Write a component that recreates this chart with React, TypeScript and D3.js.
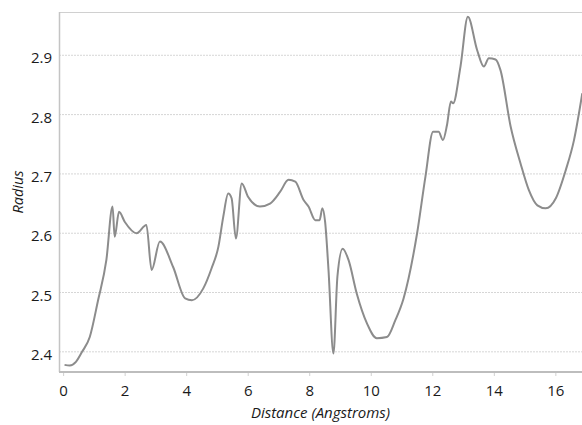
import React, { useEffect, useRef } from 'react';
import * as d3 from 'd3';

// distance (Angstroms) and radius
const distance = [
  0.03, 0.2, 0.4, 0.6, 0.85, 1.12, 1.39, 1.59, 1.66, 1.8, 1.99, 2.37, 2.69, 2.86, 3.13, 3.56,
  3.95, 4.17, 4.54, 4.81, 5.03, 5.19, 5.35, 5.46, 5.6, 5.79, 6.0, 6.38, 6.71, 7.04, 7.31,
  7.53, 7.8, 7.96, 8.18, 8.32, 8.41, 8.5, 8.61, 8.77, 8.9, 9.07, 9.26, 9.53, 9.86, 10.18,
  10.51, 10.78, 11.05, 11.49, 11.76, 12.01, 12.19, 12.33, 12.46, 12.59, 12.66, 12.9, 13.14,
  13.44, 13.66, 13.82, 14.04, 14.2, 14.53, 14.85, 15.12, 15.4, 15.67, 16.0, 16.32, 16.59, 16.86
];
const radius = [
  2.378, 2.377, 2.383, 2.4, 2.425, 2.487, 2.555, 2.645, 2.594, 2.636, 2.619, 2.6, 2.614, 2.538, 2.586, 2.543,
  2.49, 2.487, 2.507, 2.541, 2.577, 2.628, 2.667, 2.659, 2.591, 2.684, 2.661, 2.645, 2.65, 2.67, 2.69,
  2.687, 2.656, 2.645, 2.622, 2.622, 2.642, 2.619, 2.538, 2.397, 2.527, 2.574, 2.555, 2.498, 2.448, 2.423,
  2.425, 2.453, 2.49, 2.6, 2.695, 2.771, 2.771, 2.757, 2.782, 2.822, 2.819, 2.881, 2.965,
  2.909, 2.881, 2.895, 2.893, 2.875, 2.78, 2.718, 2.673, 2.647, 2.642, 2.659, 2.706, 2.757, 2.836
];
const xTicks = [0, 2, 4, 6, 8, 10, 12, 14, 16];
const yTicks = [2.4, 2.5, 2.6, 2.7, 2.8, 2.9];

const W = 582;
const H = 425;
const font = '"Open Sans", "Noto Sans", sans-serif';

export default function App() {
  const svgRef = useRef<SVGSVGElement>(null);

  useEffect(() => {
    if (!svgRef.current) return;
    const svg = d3.select(svgRef.current);
    svg.selectAll('*').remove();

    const margin = { top: 12, right: 0, bottom: 53, left: 59 };
    const innerW = W - margin.left - margin.right;
    const innerH = H - margin.top - margin.bottom;

    const x = d3.scaleLinear().domain([-0.15, 16.85]).range([0, innerW]);
    const y = d3.scaleLinear().domain([2.366, 2.973]).range([innerH, 0]);

    const g = svg.append('g').attr('transform', `translate(${margin.left},${margin.top})`);

    // grid
    g.selectAll('line.grid')
      .data(yTicks)
      .enter()
      .append('line')
      .attr('x1', 0)
      .attr('x2', innerW)
      .attr('y1', d => y(d))
      .attr('y2', d => y(d))
      .attr('stroke', '#d6d6d6')
      .attr('stroke-width', 1)
      .attr('stroke-dasharray', '2,1');

    // frame
    g.append('line').attr('x1', 0).attr('x2', innerW).attr('y1', 0.5).attr('y2', 0.5)
      .attr('stroke', '#d0d0d0');
    g.append('line').attr('x1', 0.5).attr('x2', 0.5).attr('y1', 0).attr('y2', innerH)
      .attr('stroke', '#c4c4c4').attr('stroke-width', 1.5);
    g.append('line').attr('x1', 0).attr('x2', innerW).attr('y1', innerH).attr('y2', innerH)
      .attr('stroke', '#bdbdbd').attr('stroke-width', 2);

    // x ticks
    g.selectAll('line.xt')
      .data(xTicks)
      .enter()
      .append('line')
      .attr('x1', d => x(d))
      .attr('x2', d => x(d))
      .attr('y1', innerH + 1)
      .attr('y2', innerH + 4)
      .attr('stroke', '#d0d0d0');

    g.selectAll('text.xl')
      .data(xTicks)
      .enter()
      .append('text')
      .attr('x', d => x(d))
      .attr('y', innerH + 24)
      .attr('text-anchor', 'middle')
      .style('font-family', font)
      .style('font-size', '15px')
      .attr('fill', '#1a1a1a')
      .text(d => d);

    g.selectAll('text.yl')
      .data(yTicks)
      .enter()
      .append('text')
      .attr('x', -7)
      .attr('y', d => y(d) + 8)
      .attr('text-anchor', 'end')
      .style('font-family', font)
      .style('font-size', '15px')
      .attr('fill', '#1a1a1a')
      .text(d => d.toFixed(1));

    // axis titles
    g.append('text')
      .attr('x', innerW / 2)
      .attr('y', innerH + 46)
      .attr('text-anchor', 'middle')
      .style('font-family', font)
      .style('font-size', '15px')
      .style('font-style', 'italic')
      .attr('fill', '#1a1a1a')
      .text('Distance (Angstroms)');

    g.append('text')
      .attr('transform', `translate(${-36},${innerH / 2}) rotate(-90)`)
      .attr('text-anchor', 'middle')
      .style('font-family', font)
      .style('font-size', '14.5px')
      .style('font-style', 'italic')
      .attr('fill', '#1a1a1a')
      .text('Radius');

    // line
    const pts = distance.map((d, i) => [d, radius[i]] as [number, number]);
    const line = d3.line<[number, number]>()
      .x(d => x(d[0]))
      .y(d => y(d[1]))
      .curve(d3.curveMonotoneX);

    g.append('path')
      .datum(pts)
      .attr('fill', 'none')
      .attr('stroke', '#8c8c8c')
      .attr('stroke-width', 2)
      .attr('stroke-linejoin', 'round')
      .attr('d', line);
  }, []);

  return (
    <svg
      ref={svgRef}
      width={W}
      height={H}
      style={{ position: 'absolute', left: 0, top: 0, background: '#fff' }}
    />
  );
}
